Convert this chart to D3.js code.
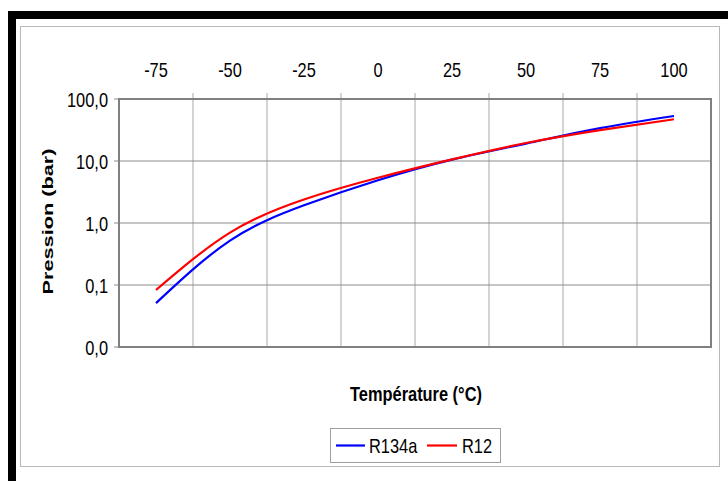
<!DOCTYPE html>
<html>
<head>
<meta charset="utf-8">
<script src="https://cdn.jsdelivr.net/npm/d3@7"></script>
<style>
  html, body { margin: 0; padding: 0; background: #fff; }
  svg { display: block; font-family: "Liberation Sans", Arial, sans-serif; }
</style>
</head>
<body>
<svg id="chart" width="728" height="481"></svg>
<script>
// ---- data ----
const temperatures = [-75, -50, -25, 0, 25, 50, 75, 100];
const r134a = [0.051, 0.52, 1.93, 4.9, 10.5, 19.1, 33.9, 53.2];
const r12   = [0.083, 0.70, 2.40, 5.36, 10.6, 19.5, 31.5, 47.1];
const yTicks = [0.01, 0.1, 1, 10, 100];
const seriesNames = ["R134a", "R12"];
const seriesColors = ["#0000ff", "#ff0000"];

const svg = d3.select("#chart");
const W = 728, H = 481;
const plot = { left: 119, right: 711, top: 99, bottom: 347 };

// outer decorations
svg.append("rect").attr("x", 8).attr("y", 11).attr("width", W - 8).attr("height", 8).attr("fill", "#000");
svg.append("rect").attr("x", 8).attr("y", 11).attr("width", 8).attr("height", H - 11).attr("fill", "#000");
svg.append("rect").attr("x", 20.5).attr("y", 26.5).attr("width", 699).attr("height", 440)
  .attr("fill", "#fff").attr("stroke", "#b8b8b8").attr("stroke-width", 1);

// scales
const x = d3.scaleLinear().domain([-87.5, 112.5]).range([plot.left, plot.right]);
const y = d3.scaleLog().domain([0.01, 100]).range([plot.bottom, plot.top]);
const fmt = v => d3.format(".1f")(v).replace(".", ",");

// vertical gridlines at band boundaries (with top tick marks)
const bounds = d3.range(-62.5, 100, 25);
svg.append("g").selectAll("line").data(bounds).join("line")
  .attr("x1", d => x(d)).attr("x2", d => x(d))
  .attr("y1", plot.top - 6).attr("y2", plot.bottom)
  .attr("stroke", "#a8a8a8").attr("stroke-width", 1);

// horizontal gridlines + left ticks
svg.append("g").selectAll("line").data(yTicks).join("line")
  .attr("x1", plot.left - 5).attr("x2", plot.right)
  .attr("y1", d => y(d)).attr("y2", d => y(d))
  .attr("stroke", "#8c8c8c").attr("stroke-width", 1);

// plot border
svg.append("rect").attr("x", plot.left).attr("y", plot.top)
  .attr("width", plot.right - plot.left).attr("height", plot.bottom - plot.top)
  .attr("fill", "none").attr("stroke", "#808080").attr("stroke-width", 2);

// x labels (top)
svg.append("g").selectAll("text").data(temperatures).join("text")
  .attr("class", "sq")
  .attr("x", d => x(d)).attr("y", 77)
  .attr("text-anchor", "middle").attr("font-size", 21).attr("fill", "#000")
  .text(d => d);

// y labels
svg.append("g").selectAll("text").data(yTicks).join("text")
  .attr("class", "sq")
  .attr("x", 108).attr("y", d => y(d) + 7.5)
  .attr("text-anchor", "end").attr("font-size", 21).attr("fill", "#000")
  .text(d => fmt(d));

// lines
const line = d3.line()
  .x((d, i) => x(temperatures[i]))
  .y(d => y(d))
  .curve(d3.curveNatural);
[r134a, r12].forEach((s, k) => {
  svg.append("path").datum(s).attr("d", line)
    .attr("fill", "none").attr("stroke", seriesColors[k]).attr("stroke-width", 2.2);
});

// axis titles
svg.append("text").attr("class", "sq")
  .attr("x", 416).attr("y", 401).attr("text-anchor", "middle")
  .attr("font-size", 21).attr("font-weight", "bold").text("Température (°C)");

svg.append("text")
  .attr("transform", "translate(53,221.5) rotate(-90)")
  .attr("text-anchor", "middle").attr("font-size", 14).attr("font-weight", "bold")
  .attr("textLength", 146).attr("lengthAdjust", "spacingAndGlyphs")
  .text("Pression (bar)");

// legend
svg.append("rect").attr("x", 330.5).attr("y", 428.5).attr("width", 170).attr("height", 34)
  .attr("fill", "#fff").attr("stroke", "#a0a0a0").attr("stroke-width", 1);
const legX = [[336, 365, 369], [427, 457, 462]];
seriesNames.forEach((n, k) => {
  svg.append("line").attr("x1", legX[k][0]).attr("x2", legX[k][1])
    .attr("y1", 445.5).attr("y2", 445.5)
    .attr("stroke", seriesColors[k]).attr("stroke-width", 2.2);
  svg.append("text").attr("class", "sq").attr("x", legX[k][2]).attr("y", 453)
    .attr("font-size", 21).text(n);
});

// horizontal squeeze of text to mimic the narrow rendering
svg.selectAll("text.sq").each(function () {
  const len = this.getComputedTextLength();
  d3.select(this).attr("textLength", len * 0.78).attr("lengthAdjust", "spacingAndGlyphs");
});
</script>
</body>
</html>
